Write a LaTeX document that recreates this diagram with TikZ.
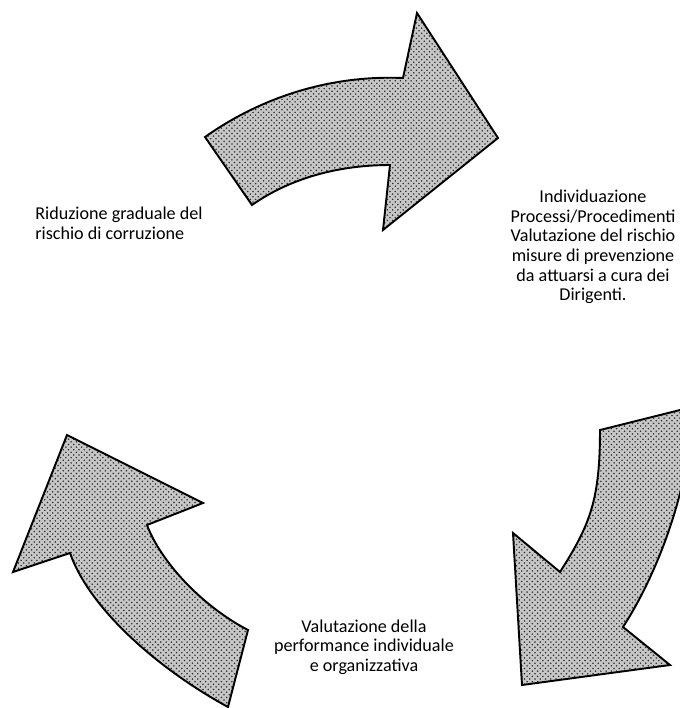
\documentclass[tikz,border=0pt]{standalone}
\usepackage{fontspec}
\setmainfont{Carlito}
\usepackage{tikz}
\usetikzlibrary{positioning,patterns}

\tikzset{
  cyc/.style={preaction={fill=black!22}, pattern=crosshatch dots, pattern color=black!80,
    draw=black, line width=1.1pt, line join=miter},
  lbl/.style={inner sep=0pt, font=\fontsize{10.3}{11.2}\selectfont}
}

\begin{document}
\begin{tikzpicture}[x=0.02cm,y=-0.02cm]
    \useasboundingbox (0,0) rectangle (680,708);
    \begin{scope}
    \clip (0,0) rectangle (680,708);

    % top arrow
    \draw[cyc] (205,137) .. controls (263,96) and (332,75) .. (403,78)
        -- (417,13) -- (498,138) -- (383,230) -- (390,165)
        .. controls (341,165) and (292,177) .. (252,205) -- cycle;

    % right arrow
    \draw[cyc] (600,430) -- (692,407)
        .. controls (692,480) and (660,570) .. (623,627)
        -- (670,665) -- (522,685) -- (513,533) -- (560,572)
        .. controls (590,525) and (600,500) .. (600,430) -- cycle;

    % left arrow
    \draw[cyc] (248,630) .. controls (200,605) and (160,560) .. (147,525)
        -- (203,503) -- (67,435) -- (13,572) -- (70,553)
        .. controls (90,610) and (160,670) .. (228,707) -- cycle;

    \node (rid) at (35,223) [lbl, anchor=west, align=left]
        {Riduzione graduale del\\rischio di corruzione};
    \node (ind) at (593,247) [lbl, align=center]
        {Individuazione\\Processi/Procedimenti\\Valutazione del rischio\\misure di prevenzione\\da attuarsi a cura dei\\Dirigenti.};
    \node (val) at (364,647) [lbl, align=center]
        {Valutazione della\\performance individuale\\e organizzativa};
    \end{scope}
\end{tikzpicture}
\end{document}
